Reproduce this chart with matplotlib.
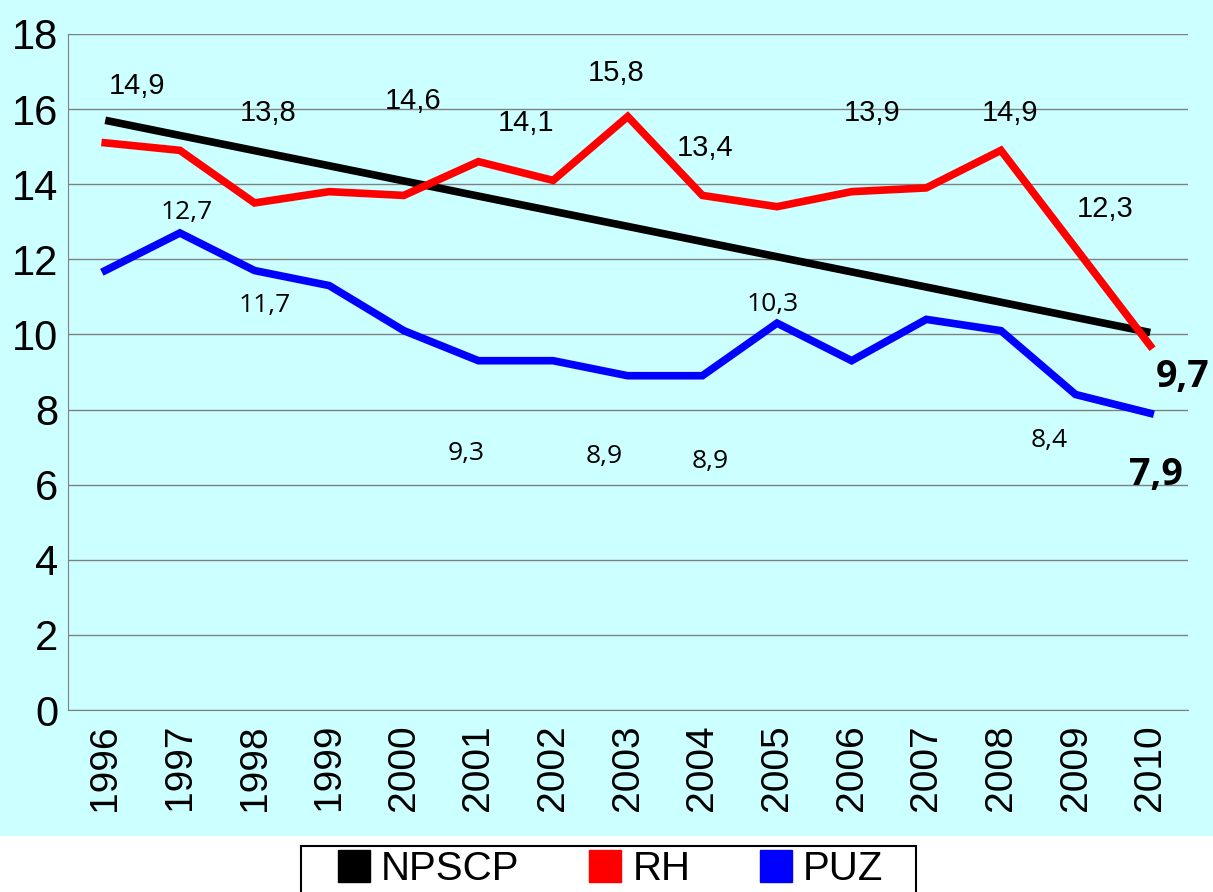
import matplotlib.pyplot as plt
from matplotlib.lines import Line2D
from matplotlib.patches import Rectangle

years = ["1996", "1997", "1998", "1999", "2000", "2001", "2002", "2003",
         "2004", "2005", "2006", "2007", "2008", "2009", "2010"]
rh = [15.1, 14.9, 13.5, 13.8, 13.7, 14.6, 14.1, 15.8, 13.7, 13.4, 13.8, 13.9, 14.9, 12.3, 9.7]
puz = [11.7, 12.7, 11.7, 11.3, 10.1, 9.3, 9.3, 8.9, 8.9, 10.3, 9.3, 10.4, 10.1, 8.4, 7.9]
# trend line NPSCP: start and end values (1996, 2010)
npscp_idx = [0, 14]
npscp = [15.7, 10.05]

# data labels as they sit on the original chart
rh_lab_text = ["14,9", "13,8", "14,6", "14,1", "15,8", "13,4", "13,9", "14,9", "12,3"]
rh_lab_x = [0.42, 2.18, 4.12, 5.64, 6.84, 8.03, 10.28, 12.12, 13.4]
rh_lab_y = [16.62, 15.9, 16.22, 15.64, 16.95, 14.95, 15.9, 15.9, 13.35]
puz_lab_text = ["12,7", "11,7", "9,3", "8,9", "8,9", "10,3", "8,4"]
puz_lab_x = [1.09, 2.14, 4.83, 6.68, 8.11, 8.94, 12.64]
puz_lab_y = [13.24, 10.77, 6.84, 6.76, 6.62, 10.8, 7.18]
end_lab_text = ["9,7", "7,9"]
end_lab_x = [14.43, 14.08]
end_lab_y = [8.86, 6.25]

bg = "#ccffff"
plt.rcParams["font.family"] = ["Liberation Sans", "DejaVu Sans"]

fig = plt.figure(figsize=(12.13, 8.92), dpi=100, facecolor="white")
fig.patches.append(Rectangle((0, 56 / 892), 1, 1, transform=fig.transFigure,
                             facecolor=bg, edgecolor="none", zorder=-10))
ax = fig.add_axes([0.056, 0.204, 0.923, 0.758])
ax.set_facecolor(bg)

x = list(range(len(years)))
ax.plot(npscp_idx, npscp, color="black", lw=5.5, solid_capstyle="butt", zorder=3)
ax.plot(x, rh, color="#ff0000", lw=5.5, solid_joinstyle="miter", zorder=4)
ax.plot(x, puz, color="#0000ff", lw=5.5, solid_joinstyle="miter", zorder=4)

ax.set_xlim(-0.5, 14.5)
ax.set_ylim(0, 18)
ax.set_yticks(range(0, 19, 2))
ax.set_xticks(x)
ax.set_xticklabels(years, rotation=90, fontsize=28)
ax.tick_params(axis="y", labelsize=30, length=0, pad=7)
ax.tick_params(axis="x", length=0, pad=10)
ax.grid(axis="y", color="#808080", lw=1)
ax.set_axisbelow(True)
for s in ["top", "right"]:
    ax.spines[s].set_visible(False)
for s in ["left", "bottom"]:
    ax.spines[s].set_color("#808080")

for t, xx, yy in zip(rh_lab_text, rh_lab_x, rh_lab_y):
    ax.text(xx, yy, t, fontsize=21, ha="center", va="center")
for t, xx, yy in zip(puz_lab_text, puz_lab_x, puz_lab_y):
    ax.text(xx, yy, t, fontsize=19, ha="center", va="center", family=["Open Sans", "DejaVu Sans"])
for t, xx, yy in zip(end_lab_text, end_lab_x, end_lab_y):
    ax.text(xx, yy, t, fontsize=27, ha="center", va="center", fontweight="bold",
            family=["Open Sans", "DejaVu Sans"], clip_on=False)

# legend box (cut by the bottom edge, as in the original)
fig.patches.append(Rectangle((301 / 1213, -0.02), 615 / 1213, 46 / 892 + 0.02,
                             transform=fig.transFigure, facecolor="white",
                             edgecolor="black", lw=1.5, zorder=1))
handles = [Line2D([], [], ls="none", marker="s", ms=23, color=c)
           for c in ["black", "#ff0000", "#0000ff"]]
fig.legend(handles, ["NPSCP", "RH", "PUZ"], loc="upper center",
           bbox_to_anchor=(0.503, 0.047), ncol=3, fontsize=29, frameon=False,
           handlelength=0.85, handletextpad=0.25, columnspacing=1.7,
           borderpad=0, borderaxespad=0)

fig.savefig("out.png", dpi=100, facecolor="white")
